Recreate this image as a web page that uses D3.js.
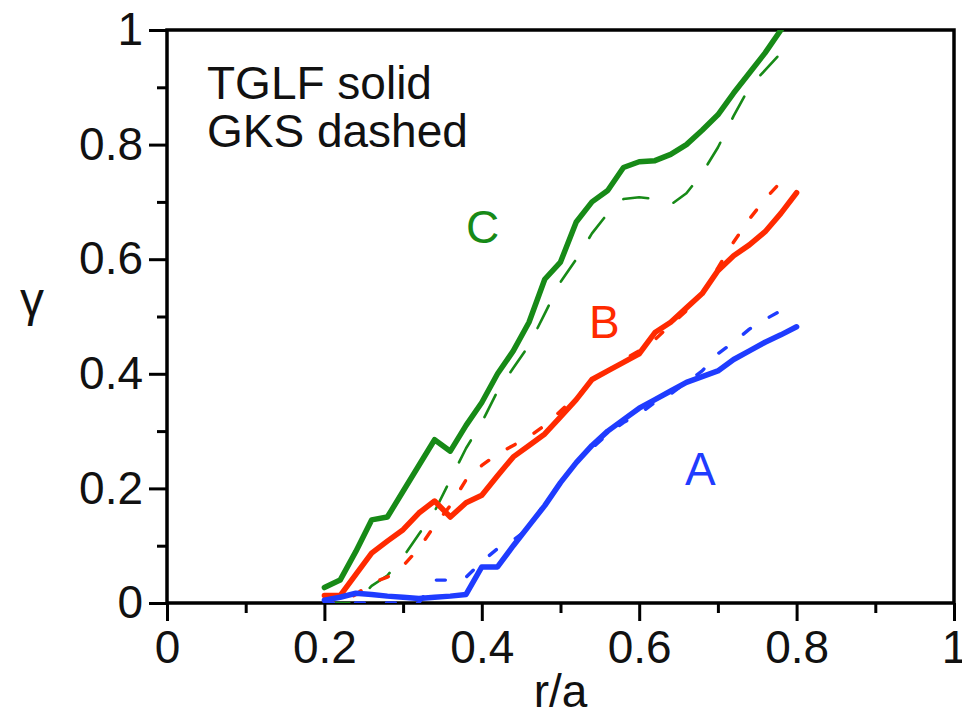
<!DOCTYPE html>
<html>
<head>
<meta charset="utf-8">
<script src="https://cdn.jsdelivr.net/npm/d3@7"></script>
<style>
  body { margin: 0; background: #fff; }
  text { font-family: "Liberation Sans", Arial, Helvetica, sans-serif; }
</style>
</head>
<body>
<script>
// r/a grid shared by all curves
var ra = [0.20, 0.22, 0.24, 0.26, 0.28, 0.30, 0.32, 0.34, 0.36, 0.38, 0.40,
          0.42, 0.44, 0.46, 0.48, 0.50, 0.52, 0.54, 0.56, 0.58, 0.60,
          0.62, 0.64, 0.66, 0.68, 0.70, 0.72, 0.74, 0.76, 0.78, 0.80];

// TGLF (solid)
var tglfA = [0.005, 0.010, 0.017, 0.015, 0.012, 0.010, 0.008, 0.010, 0.012, 0.015, 0.063,
             0.063, 0.100, 0.135, 0.170, 0.210, 0.245, 0.275, 0.300, 0.320, 0.340,
             0.355, 0.370, 0.385, 0.395, 0.405, 0.425, 0.440, 0.455, 0.468, 0.482];
var tglfB = [0.013, 0.013, 0.050, 0.087, 0.108, 0.128, 0.157, 0.178, 0.150, 0.175, 0.188,
             0.222, 0.255, 0.275, 0.295, 0.325, 0.355, 0.390, 0.405, 0.420, 0.435,
             0.472, 0.490, 0.515, 0.540, 0.580, 0.606, 0.625, 0.648, 0.680, 0.716];
var tglfC = [0.027, 0.040, 0.090, 0.145, 0.150, 0.195, 0.240, 0.285, 0.265, 0.310, 0.350,
             0.400, 0.440, 0.490, 0.565, 0.595, 0.665, 0.700, 0.720, 0.760, 0.770,
             0.772, 0.783, 0.800, 0.825, 0.852, 0.890, 0.925, 0.960, 1.000, 1.040];

// GKS (dashed)
var gksA = [0.000, 0.000, 0.000, 0.000, 0.000, 0.000, 0.000, 0.040, 0.040, 0.045, 0.072,
            0.095, 0.110, 0.130, 0.175, 0.210, 0.245, 0.270, 0.295, 0.315, 0.330,
            0.350, 0.365, 0.385, 0.405, 0.435, 0.455, 0.478, 0.495, 0.510, 0.520];
var gksB = [0.000, 0.000, 0.015, 0.035, 0.045, 0.065, 0.095, 0.135, 0.170, 0.215, 0.240,
            0.260, 0.275, 0.290, 0.310, 0.335, 0.360, 0.385, 0.405, 0.425, 0.440,
            0.460, 0.485, 0.510, 0.540, 0.585, 0.630, 0.670, 0.705, 0.735];
var gksC = [0.000, 0.000, 0.000, 0.030, 0.048, 0.080, 0.120, 0.160, 0.215, 0.270, 0.315,
            0.370, 0.410, 0.450, 0.505, 0.560, 0.600, 0.645, 0.680, 0.705, 0.708,
            0.705, 0.695, 0.715, 0.750, 0.795, 0.850, 0.900, 0.930, 0.960];

var majorTicks = [0, 0.2, 0.4, 0.6, 0.8, 1];
var minorTicks = [0.1, 0.3, 0.5, 0.7, 0.9];
var tickLabels = ["0", "0.2", "0.4", "0.6", "0.8", "1"];

var w = 962, h = 719;
var padLeft = 167, padRight = 954, padTop = 30, padBottom = 603;

var svg = d3.select("body").append("svg")
  .attr("width", w)
  .attr("height", h);

var xScale = d3.scaleLinear().domain([0, 1]).range([padLeft, padRight]);
var yScale = d3.scaleLinear().domain([0, 1]).range([padBottom, padTop]);

svg.append("clipPath").attr("id", "plot")
  .append("rect")
  .attr("x", padLeft).attr("y", padTop)
  .attr("width", padRight - padLeft).attr("height", padBottom - padTop);

function drawAxis(g) {
  g.selectAll(".domain").remove();
  g.selectAll("line").attr("stroke", "#000").attr("stroke-width", 3);
  g.selectAll("text").attr("font-size", "46px").attr("fill", "#111");
}

// minor ticks
svg.append("g")
  .attr("transform", "translate(0," + padBottom + ")")
  .call(d3.axisBottom(xScale).tickValues(minorTicks).tickSize(10).tickFormat(""))
  .call(drawAxis);
svg.append("g")
  .attr("transform", "translate(" + padLeft + ",0)")
  .call(d3.axisLeft(yScale).tickValues(minorTicks).tickSize(10).tickFormat(""))
  .call(drawAxis);

// major ticks
svg.append("g")
  .attr("transform", "translate(0," + padBottom + ")")
  .call(d3.axisBottom(xScale).tickValues(majorTicks).tickSize(18).tickPadding(9)
    .tickFormat(function(d, i) { return tickLabels[i]; }))
  .call(drawAxis);
svg.append("g")
  .attr("transform", "translate(" + padLeft + ",0)")
  .call(d3.axisLeft(yScale).tickValues(majorTicks).tickSize(18).tickPadding(6)
    .tickFormat(function(d, i) { return tickLabels[i]; }))
  .call(drawAxis);

// frame
svg.append("rect")
  .attr("x", padLeft).attr("y", padTop)
  .attr("width", padRight - padLeft).attr("height", padBottom - padTop)
  .attr("fill", "none")
  .attr("stroke", "#000")
  .attr("stroke-width", 3.5);

var line = d3.line()
  .x(function(d) { return xScale(d[0]); })
  .y(function(d) { return yScale(d[1]); });

function pairs(vals) {
  return vals.map(function(v, i) { return [ra[i], v]; });
}

var curves = [
  { vals: gksC, color: "#178a17", width: 2.6, dash: "25,27" },
  { vals: gksB, color: "#ff2a00", width: 3.4, dash: "9,22" },
  { vals: gksA, color: "#1f3cff", width: 3.4, dash: "9,22" },
  { vals: tglfC, color: "#178a17", width: 5.5, dash: null },
  { vals: tglfB, color: "#ff2a00", width: 5.5, dash: null },
  { vals: tglfA, color: "#1f3cff", width: 5.5, dash: null }
];

var plot = svg.append("g").attr("clip-path", "url(#plot)");

curves.forEach(function(c) {
  plot.append("path")
    .datum(pairs(c.vals))
    .attr("d", line)
    .attr("fill", "none")
    .attr("stroke", c.color)
    .attr("stroke-width", c.width)
    .attr("stroke-linejoin", "round")
    .attr("stroke-linecap", "round")
    .attr("stroke-dasharray", c.dash);
});

// curve labels
svg.append("text").attr("x", 466).attr("y", 243).attr("font-size", "46px")
  .attr("fill", "#178a17").text("C");
svg.append("text").attr("x", 589).attr("y", 338).attr("font-size", "46px")
  .attr("fill", "#ff2a00").text("B");
svg.append("text").attr("x", 685).attr("y", 485).attr("font-size", "46px")
  .attr("fill", "#1f3cff").text("A");

// legend note
svg.append("text").attr("x", 207).attr("y", 99).attr("font-size", "46px")
  .attr("fill", "#111").text("TGLF solid");
svg.append("text").attr("x", 207).attr("y", 147).attr("font-size", "46px")
  .attr("fill", "#111").text("GKS dashed");

// axis titles
svg.append("text").attr("x", (padLeft + padRight) / 2).attr("y", 707)
  .attr("text-anchor", "middle").attr("font-size", "46px")
  .attr("fill", "#111").text("r/a");
svg.append("text").attr("x", 32).attr("y", 316)
  .attr("text-anchor", "middle").attr("font-size", "48px")
  .attr("fill", "#111").text("γ");
</script>
</body>
</html>
